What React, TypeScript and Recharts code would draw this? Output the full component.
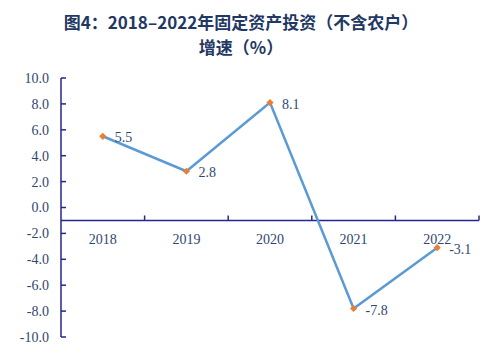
import { LabelList, Line, LineChart, ReferenceLine, XAxis, YAxis } from "recharts";

const years = ["2018", "2019", "2020", "2021", "2022"];
const growth = [5.5, 2.8, 8.1, -7.8, -3.1];
const yTicks = [-10, -8, -6, -4, -2, 0, 2, 4, 6, 8, 10];
const titleLines = ["图4：2018–2022年固定资产投资（不含农户）", "增速（%）"];

const data = years.map((year, i) => ({ year, growth: growth[i] }));

const axisColor = "#26268f";
const textColor = "#2f4770";
const serif = "'Liberation Serif', 'Times New Roman', serif";

const Diamond = (props: any) => {
  const { cx, cy } = props;
  if (cx == null || cy == null) return null;
  const r = 3.6;
  return (
    <polygon
      points={`${cx},${cy - r} ${cx + r},${cy} ${cx},${cy + r} ${cx - r},${cy}`}
      fill="#ed7d31"
    />
  );
};

// horizontal axis is drawn where the ReferenceLine sits (y = -1)
const CategoryAxis = (props: any) => {
  const { x, y, width } = props.viewBox;
  const step = width / years.length;
  return (
    <g>
      {years.map((yr, i) => (
        <g key={yr}>
          <line
            x1={x + step * (i + 1)}
            x2={x + step * (i + 1)}
            y1={y}
            y2={y - 5}
            stroke={axisColor}
            strokeWidth={1.5}
          />
          <text
            x={x + step * (i + 0.5)}
            y={y + 24}
            textAnchor="middle"
            fontSize={14}
            fontFamily={serif}
            fill={textColor}
          >
            {yr}
          </text>
        </g>
      ))}
    </g>
  );
};

const PointLabel = (props: any) => {
  const { x, y, value } = props;
  return (
    <text
      x={x + 12}
      y={y + 6}
      fontSize={14}
      fontFamily={serif}
      fill={textColor}
    >
      {value.toFixed(1)}
    </text>
  );
};

export default function App() {
  return (
    <div style={{ position: "absolute", left: 0, top: 0, width: 500, height: 358, background: "#fff" }}>
      {titleLines.map((t, i) => (
        <div
          key={t}
          style={{
            position: "absolute",
            left: 0,
            top: 9 + i * 25,
            width: 482,
            textAlign: "center",
            fontFamily: "'Noto Sans CJK SC', sans-serif",
            fontWeight: 700,
            fontSize: 17,
            lineHeight: "25px",
            color: "#1f3864",
            whiteSpace: "nowrap",
          }}
        >
          {t}
        </div>
      ))}
      <LineChart
        width={500}
        height={358}
        data={data}
        margin={{ top: 78, right: 21, bottom: 21, left: 0 }}
      >
        <XAxis dataKey="year" scale="band" hide />
        <YAxis
          domain={[-10, 10]}
          ticks={yTicks}
          interval={0}
          width={61}
          stroke={axisColor}
          strokeWidth={1.5}
          tickSize={-5}
          tickMargin={17}
          tickFormatter={(v: number) => v.toFixed(1)}
          tick={{ fill: textColor, fontSize: 14, fontFamily: serif }}
        />
        <ReferenceLine
          y={-1}
          stroke={axisColor}
          strokeWidth={1.5}
          label={<CategoryAxis />}
        />
        <Line
          dataKey="growth"
          stroke="#5b9bd5"
          strokeWidth={2.5}
          dot={<Diamond />}
          activeDot={false}
          isAnimationActive={false}
        >
          <LabelList dataKey="growth" content={<PointLabel />} />
        </Line>
      </LineChart>
    </div>
  );
}
